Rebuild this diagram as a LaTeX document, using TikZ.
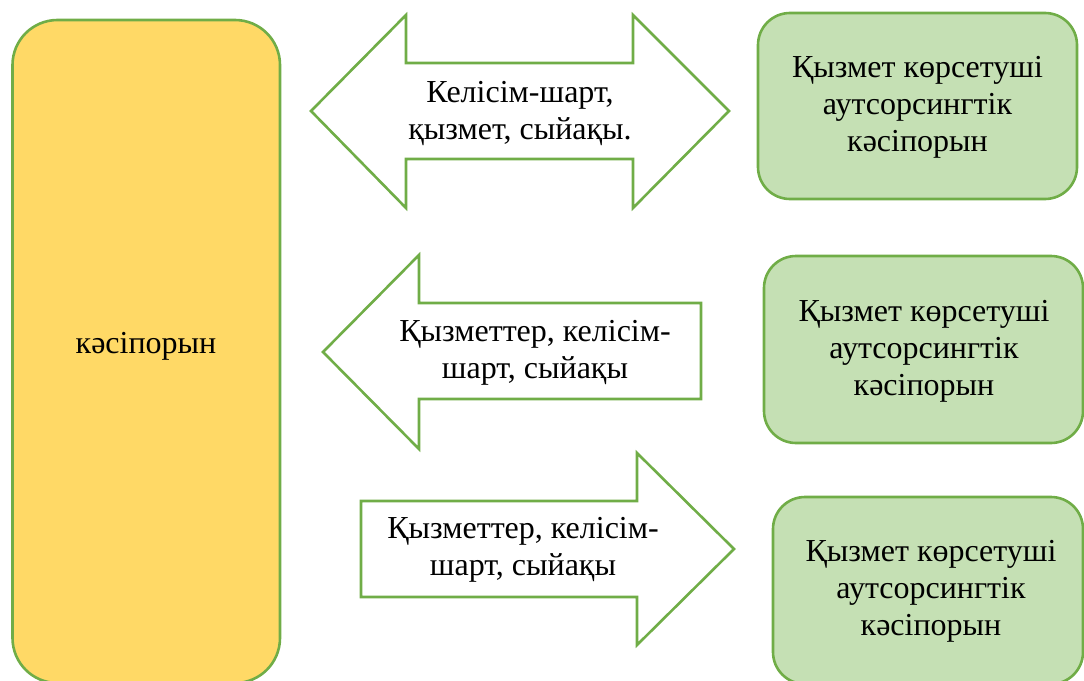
\documentclass[tikz,border=0pt]{standalone}
\usepackage{fontspec}
\setmainfont{Liberation Serif}
\newfontfamily\kzserif{Liberation Serif}
\definecolor{edgegreen}{HTML}{70AD47}
\definecolor{firmyellow}{HTML}{FFD966}
\definecolor{firmgreen}{HTML}{C5E0B4}
\tikzset{
  firmbox/.style={draw=edgegreen, line width=2.6pt, fill=firmyellow, rounded corners=45pt},
  providerbox/.style={draw=edgegreen, line width=2.6pt, fill=firmgreen, rounded corners=32pt},
  flowarrow/.style={draw=edgegreen, line width=2.6pt, fill=white, line join=miter},
  flowtext/.style={align=center, inner sep=0pt, font=\kzserif\fontsize{32}{37}\selectfont}
}
\begin{document}
\begin{tikzpicture}[x=1pt,y=-1pt]
  \useasboundingbox (0,0) rectangle (1084,680);
  \draw[firmbox] (12.5,20) rectangle (280,683);
  \node[flowtext] (firm) at (146,346) {кәсіпорын};

  \draw[flowarrow] (311,111) -- (406,15) -- (406,63) -- (633,63) -- (633,15) -- (729,111)
    -- (633,208) -- (633,159) -- (406,159) -- (406,208) -- cycle;
  \node[flowtext] (deal) at (520,113) {Келісім-шарт,\\ қызмет, сыйақы.};

  \draw[flowarrow] (323,352) -- (419,255) -- (419,303) -- (701,303) -- (701,399)
    -- (419,399) -- (419,449) -- cycle;
  \node[flowtext] (back) at (535,353) {Қызметтер, келісім-\\ шарт, сыйақы};

  \draw[flowarrow] (361,501) -- (637,501) -- (637,453) -- (734,549) -- (637,645)
    -- (637,597) -- (361,597) -- cycle;
  \node[flowtext] (forth) at (523,550) {Қызметтер, келісім-\\ шарт, сыйақы};

  \draw[providerbox] (758,13) rectangle (1077,199);
  \node[flowtext] (prov1) at (917.5,107) {Қызмет көрсетуші\\ аутсорсингтік\\ кәсіпорын};
  \draw[providerbox] (764,256) rectangle (1083,443);
  \node[flowtext] (prov2) at (924,351) {Қызмет көрсетуші\\ аутсорсингтік\\ кәсіпорын};
  \draw[providerbox] (773,497) rectangle (1083,684);
  \node[flowtext] (prov3) at (931,591) {Қызмет көрсетуші\\ аутсорсингтік\\ кәсіпорын};
\end{tikzpicture}
\end{document}
